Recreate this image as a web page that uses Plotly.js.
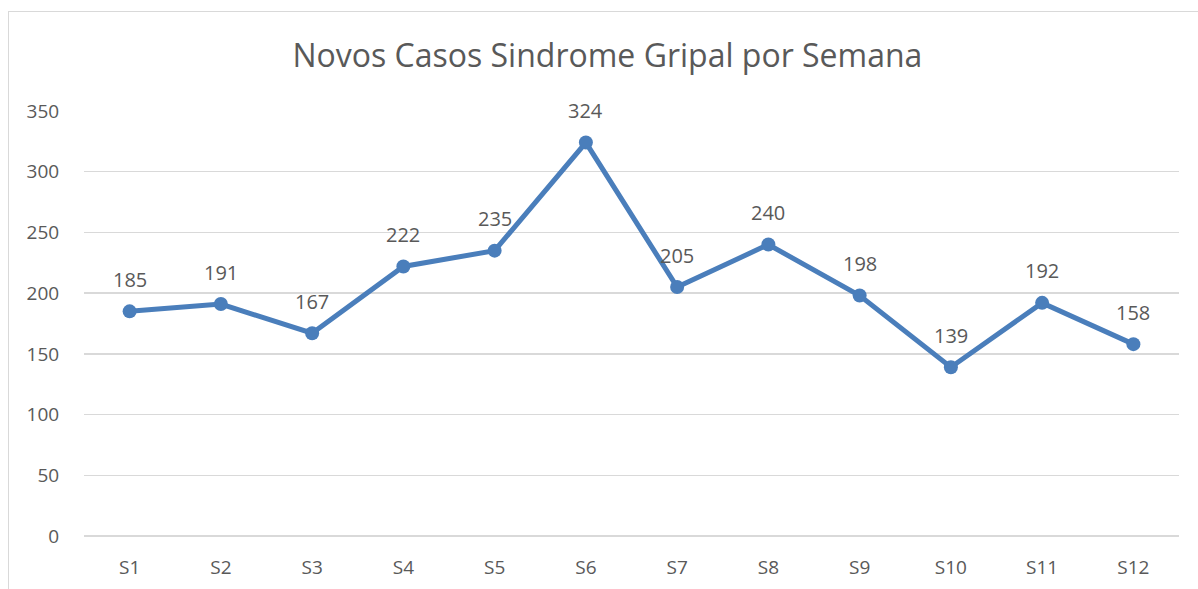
<!DOCTYPE html>
<html><head><meta charset="utf-8">
<script src="https://cdn.plot.ly/plotly-3.0.1.min.js"></script>
<style>
html,body{margin:0;padding:0;background:#fff;overflow:hidden;}
#chart{width:1198px;height:589px;}
#frame{position:absolute;left:8px;top:11px;width:1300px;height:700px;border:1.5px solid #d9d9d9;pointer-events:none;}
</style></head>
<body>
<div id="chart"></div>
<div id="frame"></div>
<script>
const weeks = ['S1','S2','S3','S4','S5','S6','S7','S8','S9','S10','S11','S12'];
const cases = [185,191,167,222,235,324,205,240,198,139,192,158];
const yTicks = [0,50,100,150,200,250,300,350];

const fontFam = '"Open Sans", "Liberation Sans", sans-serif';
const textColor = '#595959';

const trace = {
  x: weeks, y: cases, type: 'scatter', mode: 'lines+markers',
  line: {color: '#4a7ebb', width: 5},
  marker: {color: '#4a7ebb', size: 14},
  hoverinfo: 'x+y'
};

const annotations = weeks.map((w, i) => ({
  x: w, y: cases[i], xref: 'x', yref: 'y', text: String(cases[i]),
  showarrow: false, yshift: 32, yanchor: 'middle',
  font: {family: fontFam, size: 20, color: textColor}
}));

const layout = {
  width: 1198, height: 589,
  margin: {l: 84, r: 19, t: 111, b: 53},
  paper_bgcolor: '#fff', plot_bgcolor: '#fff',
  showlegend: false,
  title: {text: 'Novos Casos Sindrome Gripal por Semana', x: 0.507, xanchor: 'center', y: 0.905, yanchor: 'middle',
    font: {family: fontFam, size: 32, color: textColor}},
  xaxis: {type: 'category', range: [-0.5, 11.5], showgrid: false, zeroline: false, showline: false,
    ticks: 'outside', ticklen: 14, tickcolor: 'rgba(0,0,0,0)',
    tickfont: {family: fontFam, size: 19, color: textColor}, fixedrange: true},
  yaxis: {range: [0, 350], tickvals: yTicks, showgrid: true, gridcolor: '#d9d9d9', gridwidth: 1.5,
    zeroline: true, zerolinecolor: '#d9d9d9', zerolinewidth: 1.5, showline: false,
    ticks: 'outside', ticklen: 20, tickcolor: 'rgba(0,0,0,0)',
    tickfont: {family: fontFam, size: 19, color: textColor}, fixedrange: true},
  annotations: annotations
};

Plotly.newPlot('chart', [trace], layout, {displayModeBar: false, staticPlot: true});
</script>
</body></html>
